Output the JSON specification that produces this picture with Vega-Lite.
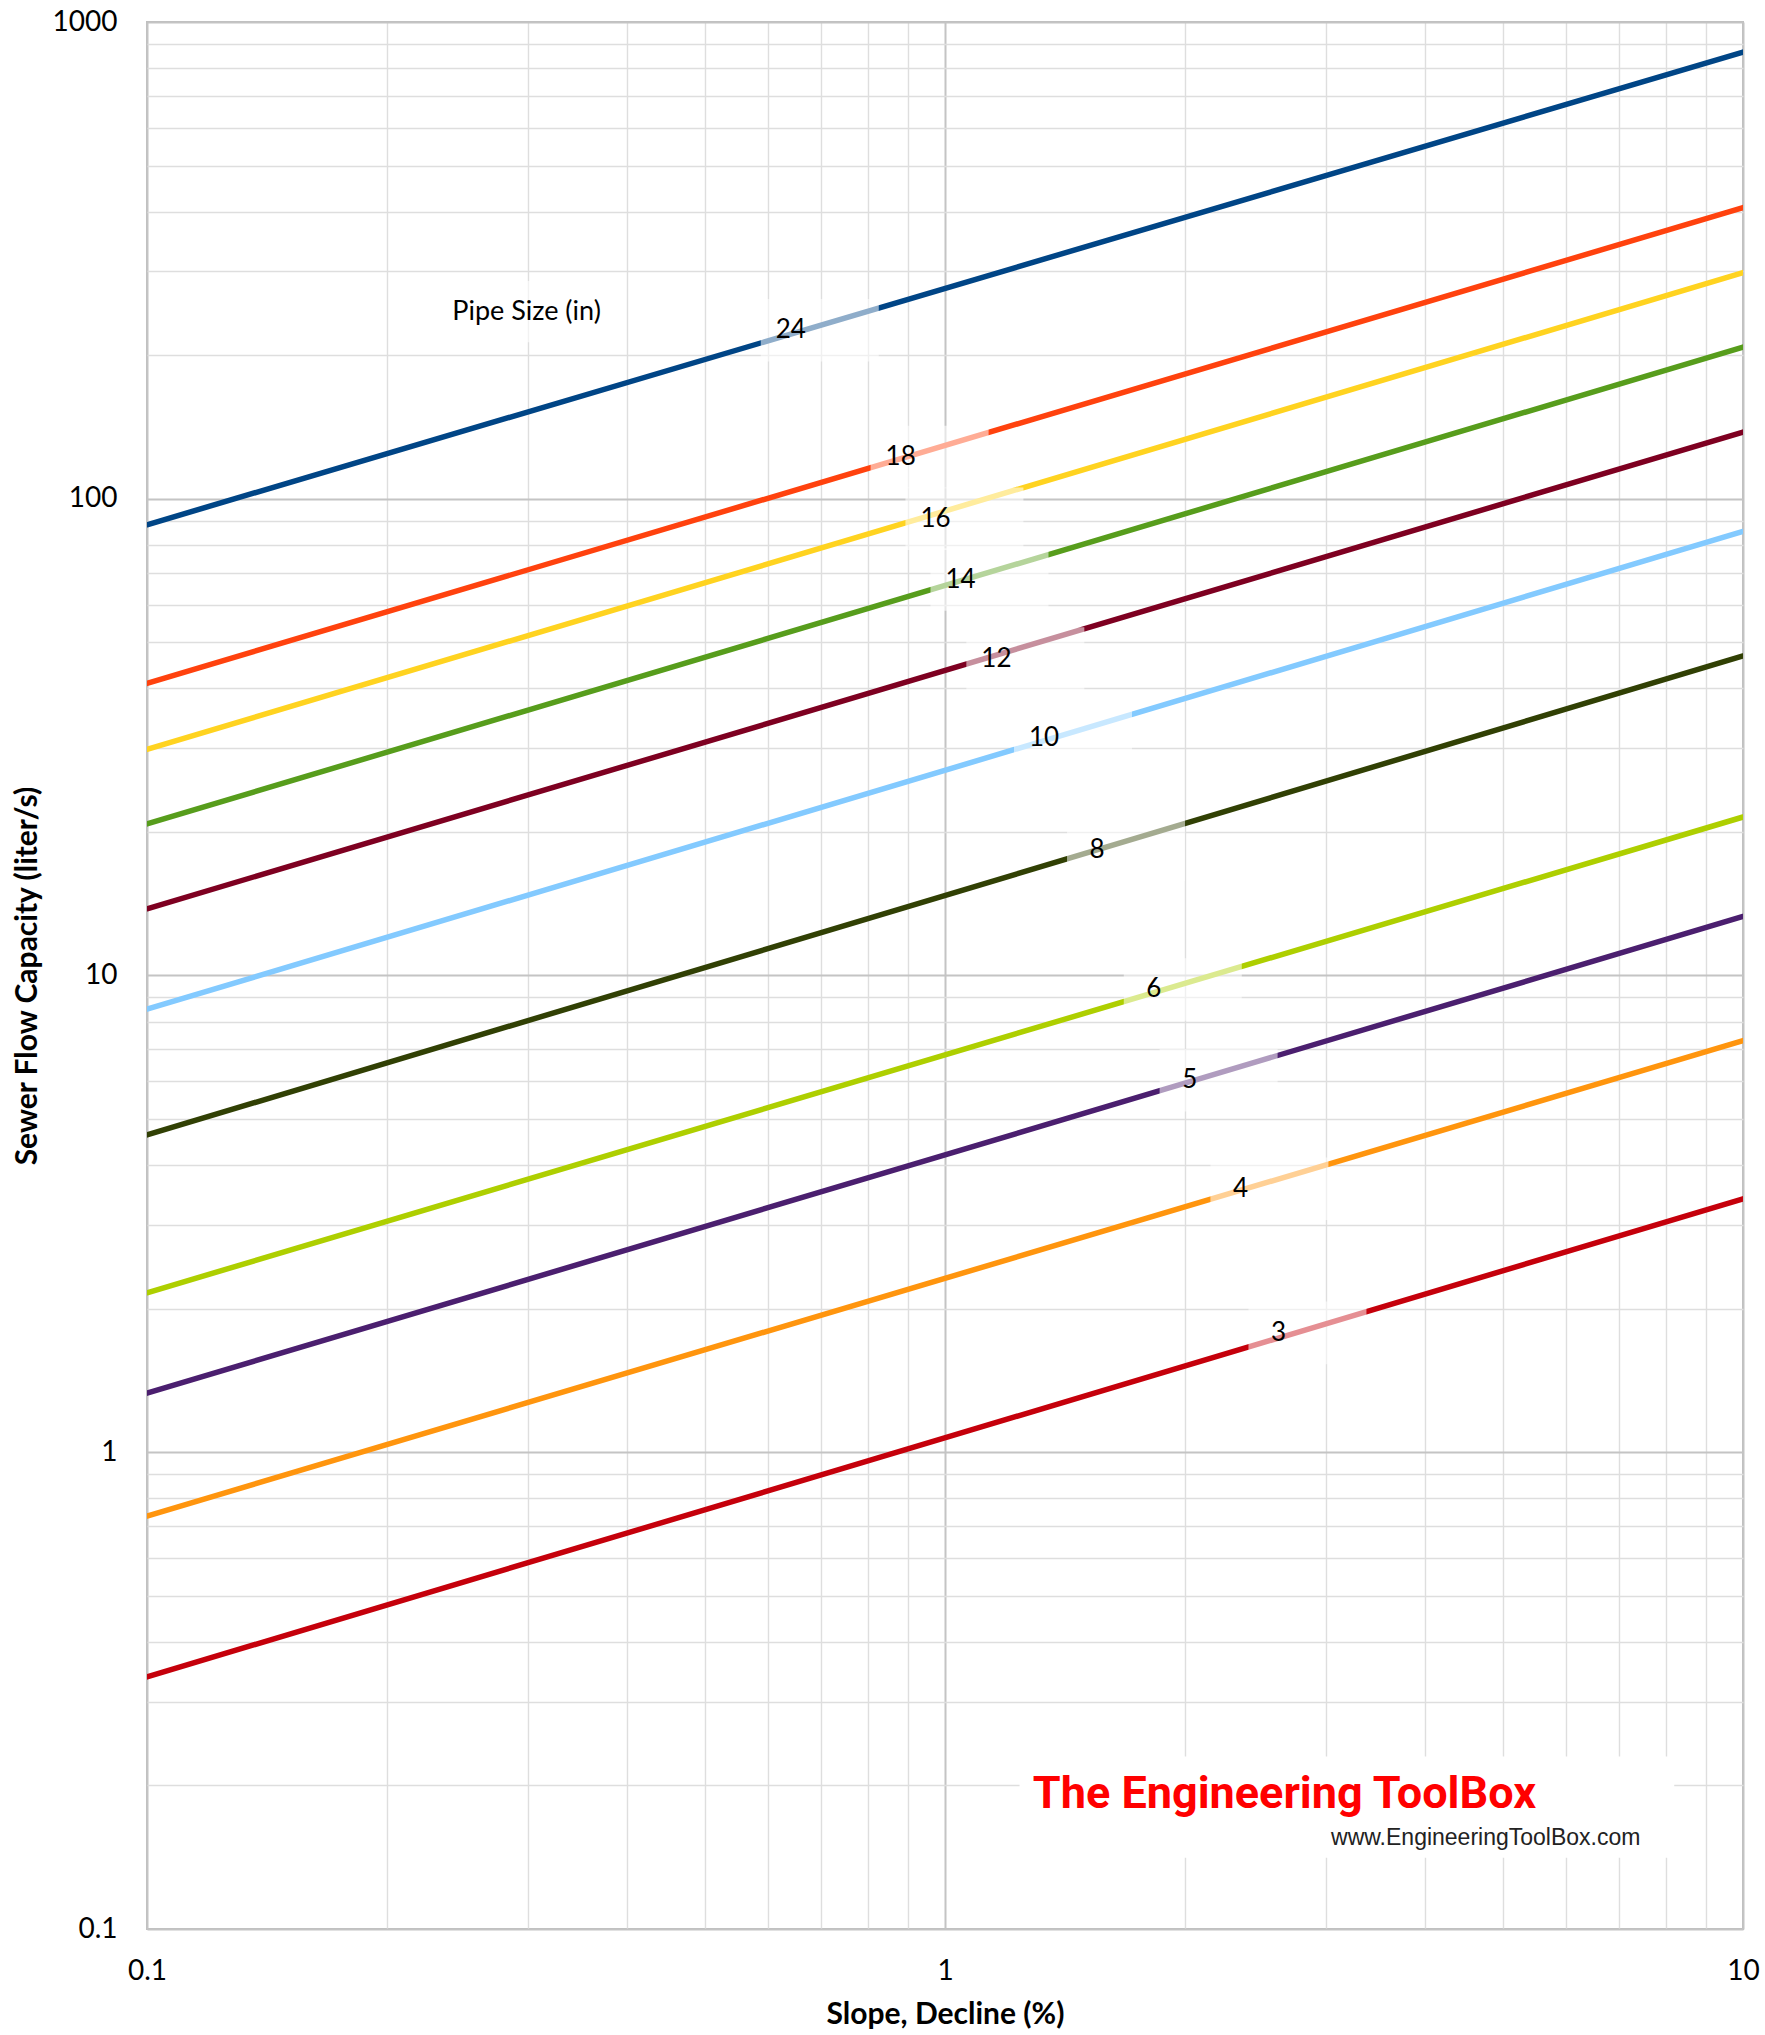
{
  "$schema": "https://vega.github.io/schema/vega-lite/v6.json",
  "width": 1596,
  "height": 1907,
  "autosize": {"type": "none"},
  "padding": {"left": 147, "top": 22, "right": 22, "bottom": 106},
  "background": "white",
  "config": {
    "font": "Lato",
    "view": {"stroke": "#bfbfbf", "strokeWidth": 2},
    "axis": {
      "domain": false,
      "ticks": false,
      "labelFont": "Lato",
      "labelFontSize": 28,
      "labelColor": "#000000",
      "titleFont": "Lato",
      "titleFontSize": 30,
      "titleFontWeight": "bold",
      "titleColor": "#000000",
      "format": "~g",
      "labelOverlap": false,
      "labelBound": false,
      "labelFlush": false
    }
  },
  "datasets": {
    "lines": [
      {"size": "24", "slope": 0.1, "flow": 88.2}, {"size": "24", "slope": 10, "flow": 865},
      {"size": "18", "slope": 0.1, "flow": 41.0}, {"size": "18", "slope": 10, "flow": 408},
      {"size": "16", "slope": 0.1, "flow": 29.8}, {"size": "16", "slope": 10, "flow": 298},
      {"size": "14", "slope": 0.1, "flow": 20.8}, {"size": "14", "slope": 10, "flow": 208},
      {"size": "12", "slope": 0.1, "flow": 13.8}, {"size": "12", "slope": 10, "flow": 138},
      {"size": "10", "slope": 0.1, "flow": 8.5}, {"size": "10", "slope": 10, "flow": 85.4},
      {"size": "8", "slope": 0.1, "flow": 4.63}, {"size": "8", "slope": 10, "flow": 46.8},
      {"size": "6", "slope": 0.1, "flow": 2.16}, {"size": "6", "slope": 10, "flow": 21.5},
      {"size": "5", "slope": 0.1, "flow": 1.33}, {"size": "5", "slope": 10, "flow": 13.3},
      {"size": "4", "slope": 0.1, "flow": 0.735}, {"size": "4", "slope": 10, "flow": 7.3},
      {"size": "3", "slope": 0.1, "flow": 0.338}, {"size": "3", "slope": 10, "flow": 3.4}
    ],
    "labels": [
      {"size": "24", "slope": 0.641, "flow": 225.7},
      {"size": "18", "slope": 0.88, "flow": 122.4},
      {"size": "16", "slope": 0.973, "flow": 90.8},
      {"size": "14", "slope": 1.046, "flow": 67.7},
      {"size": "12", "slope": 1.16, "flow": 46.2},
      {"size": "10", "slope": 1.331, "flow": 31.5},
      {"size": "8", "slope": 1.551, "flow": 18.35},
      {"size": "6", "slope": 1.827, "flow": 9.35},
      {"size": "5", "slope": 2.026, "flow": 6.03},
      {"size": "4", "slope": 2.346, "flow": 3.57},
      {"size": "3", "slope": 2.618, "flow": 1.78}
    ],
    "legendtitle": [
      {"text": "Pipe Size (in)", "slope": 0.299, "flow": 247}
    ],
    "logobox": [
      {"x1": 1.24, "x2": 8.2, "y1": 0.23, "y2": 0.141}
    ],
    "logo": [
      {"text": "The Engineering ToolBox", "slope": 2.663, "flow": 0.1916}
    ],
    "url": [
      {"text": "www.EngineeringToolBox.com", "slope": 4.76, "flow": 0.155}
    ]
  },
  "layer": [
    {
      "data": {"name": "lines"},
      "mark": {"type": "line", "strokeWidth": 5.5, "strokeCap": "round", "clip": true},
      "encoding": {
        "x": {
          "field": "slope", "type": "quantitative",
          "scale": {"type": "log", "domain": [0.1, 10], "nice": false},
          "axis": {
            "title": "Slope, Decline (%)",
            "values": [0.1, 0.2, 0.3, 0.4, 0.5, 0.6, 0.7, 0.8, 0.9, 1, 2, 3, 4, 5, 6, 7, 8, 9, 10],
            "labelExpr": "(datum.value == 0.1 || datum.value == 1 || datum.value == 10) ? datum.label : ''",
            "labelPadding": 28,
            "titlePadding": 14,
            "grid": true,
            "gridColor": {"condition": {"test": "datum.value == 0.1 || datum.value == 1 || datum.value == 10", "value": "#c4c4c4"}, "value": "#dedede"},
            "gridWidth": {"condition": {"test": "datum.value == 0.1 || datum.value == 1 || datum.value == 10", "value": 2}, "value": 1.4}
          }
        },
        "y": {
          "field": "flow", "type": "quantitative",
          "scale": {"type": "log", "domain": [0.1, 1000], "nice": false},
          "axis": {
            "title": "Sewer Flow Capacity (liter/s)",
            "values": [0.1, 0.2, 0.3, 0.4, 0.5, 0.6, 0.7, 0.8, 0.9, 1, 2, 3, 4, 5, 6, 7, 8, 9, 10, 20, 30, 40, 50, 60, 70, 80, 90, 100, 200, 300, 400, 500, 600, 700, 800, 900, 1000],
            "labelExpr": "indexof([0.1, 1, 10, 100, 1000], datum.value) >= 0 ? datum.label : ''",
            "labelPadding": 30,
            "titlePadding": 10,
            "grid": true,
            "gridColor": {"condition": {"test": "indexof([0.1, 1, 10, 100, 1000], datum.value) >= 0", "value": "#c4c4c4"}, "value": "#dedede"},
            "gridWidth": {"condition": {"test": "indexof([0.1, 1, 10, 100, 1000], datum.value) >= 0", "value": 2}, "value": 1.4}
          }
        },
        "color": {
          "field": "size", "type": "nominal", "legend": null,
          "scale": {
            "domain": ["24", "18", "16", "14", "12", "10", "8", "6", "5", "4", "3"],
            "range": ["#004586", "#ff420e", "#ffd320", "#579d1c", "#7e0021", "#83caff", "#314004", "#aecf00", "#4b1f6f", "#ff950e", "#c5000b"]
          }
        },
        "detail": {"field": "size"}
      }
    },
    {
      "data": {"name": "logobox"},
      "mark": {"type": "rect", "fill": "white", "stroke": null},
      "encoding": {
        "x": {"field": "x1", "type": "quantitative"},
        "x2": {"field": "x2"},
        "y": {"field": "y1", "type": "quantitative"},
        "y2": {"field": "y2"}
      }
    },
    {
      "data": {"name": "labels"},
      "mark": {
        "type": "point", "filled": true, "fill": "white", "opacity": 0.56, "strokeWidth": 0,
        "shape": "M-0.51,-0.53L1.49,-0.53L1.49,0.53L-0.51,0.53Z",
        "size": 13924
      },
      "encoding": {
        "x": {"field": "slope", "type": "quantitative"},
        "y": {"field": "flow", "type": "quantitative"}
      }
    },
    {
      "data": {"name": "legendtitle"},
      "mark": {
        "type": "point", "filled": true, "fill": "white", "opacity": 0.6, "strokeWidth": 0,
        "shape": "M-1,-0.34L1,-0.34L1,0.34L-1,0.34Z",
        "size": 32400
      },
      "encoding": {
        "x": {"field": "slope", "type": "quantitative"},
        "y": {"field": "flow", "type": "quantitative"}
      }
    },
    {
      "data": {"name": "labels"},
      "mark": {"type": "text", "font": "Lato", "fontSize": 26, "color": "#000000", "align": "center", "baseline": "middle"},
      "encoding": {
        "x": {"field": "slope", "type": "quantitative"},
        "y": {"field": "flow", "type": "quantitative"},
        "text": {"field": "size"}
      }
    },
    {
      "data": {"name": "legendtitle"},
      "mark": {"type": "text", "font": "Lato", "fontSize": 27, "color": "#000000", "align": "center", "baseline": "middle"},
      "encoding": {
        "x": {"field": "slope", "type": "quantitative"},
        "y": {"field": "flow", "type": "quantitative"},
        "text": {"field": "text"}
      }
    },
    {
      "data": {"name": "logo"},
      "mark": {"type": "text", "font": "Roboto", "fontWeight": "bold", "fontSize": 45, "color": "#ff0000", "align": "center", "baseline": "middle"},
      "encoding": {
        "x": {"field": "slope", "type": "quantitative"},
        "y": {"field": "flow", "type": "quantitative"},
        "text": {"field": "text"}
      }
    },
    {
      "data": {"name": "url"},
      "mark": {"type": "text", "font": "Liberation Sans", "fontSize": 23, "color": "#222222", "align": "center", "baseline": "middle"},
      "encoding": {
        "x": {"field": "slope", "type": "quantitative"},
        "y": {"field": "flow", "type": "quantitative"},
        "text": {"field": "text"}
      }
    }
  ]
}
